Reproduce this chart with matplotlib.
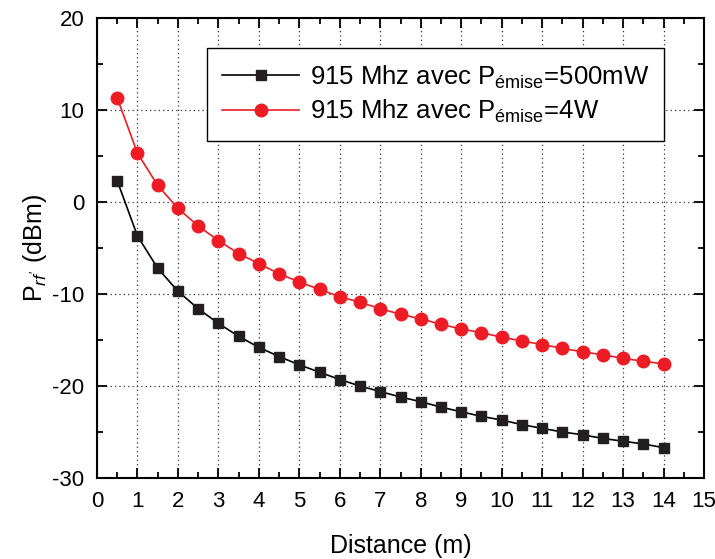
import numpy as np
import matplotlib.pyplot as plt
from matplotlib.ticker import MultipleLocator

plt.rcParams['font.family'] = ['Liberation Sans', 'DejaVu Sans']
plt.rcParams['mathtext.fontset'] = 'custom'
plt.rcParams['mathtext.rm'] = 'Liberation Sans'
plt.rcParams['mathtext.it'] = 'Liberation Sans:italic'
plt.rcParams['axes.unicode_minus'] = False

# distance (m)
distance = [0.5, 1, 1.5, 2, 2.5, 3, 3.5, 4, 4.5, 5, 5.5, 6, 6.5, 7, 7.5,
            8, 8.5, 9, 9.5, 10, 10.5, 11, 11.5, 12, 12.5, 13, 13.5, 14]
# puissance recue (dBm)
p_500mw = [2.3, -3.7, -7.2, -9.7, -11.6, -13.2, -14.6, -15.8, -16.8, -17.7,
           -18.5, -19.3, -20.0, -20.6, -21.2, -21.7, -22.3, -22.8, -23.3,
           -23.7, -24.2, -24.6, -25.0, -25.3, -25.7, -26.0, -26.3, -26.7]
p_4w = [11.3, 5.3, 1.8, -0.7, -2.6, -4.2, -5.6, -6.7, -7.8, -8.7, -9.5,
        -10.3, -10.9, -11.6, -12.2, -12.7, -13.3, -13.8, -14.2, -14.7,
        -15.1, -15.5, -15.9, -16.3, -16.6, -17.0, -17.3, -17.6]

fig = plt.figure(figsize=(7.15, 5.59), dpi=100)
ax = fig.add_axes([0.1357, 0.1449, 0.8489, 0.8229])

ax.plot(distance, p_500mw, '-', color='black', lw=1.2, marker='s', ms=7.5,
        mfc='#231f20', mec='#231f20',
        label=r'915 Mhz avec P$_{\mathrm{émise}}$=500mW')
ax.plot(distance, p_4w, '-', color='#ed1c24', lw=1.2, marker='o', ms=9,
        mfc='#ed1c24', mec='#ed1c24',
        label=r'915 Mhz avec P$_{\mathrm{émise}}$=4W')

ax.set_xlim(0, 15)
ax.set_ylim(-30, 20)
ax.xaxis.set_major_locator(MultipleLocator(1))
ax.xaxis.set_minor_locator(MultipleLocator(0.5))
ax.yaxis.set_major_locator(MultipleLocator(10))
ax.yaxis.set_minor_locator(MultipleLocator(5))
ax.tick_params(which='both', direction='in', top=True, right=True,
               labelsize=16, width=1.3, pad=9)
ax.tick_params(which='major', length=7)
ax.tick_params(which='minor', length=4)
for s in ax.spines.values():
    s.set_linewidth(1.5)

ax.grid(True, which='major', linestyle=(0, (1, 2.5)), color='#333333', lw=0.9)

ax.set_xlabel('Distance (m)', fontsize=18, labelpad=16)
ax.set_ylabel(r"P$_{\mathit{rf'}}$ (dBm)", fontsize=18, labelpad=2)

leg = ax.legend(loc='upper left', bbox_to_anchor=(0.181, 0.935), fontsize=18.5,
                fancybox=False, edgecolor='black', framealpha=1,
                handlelength=3.0, handletextpad=0.4, borderpad=0.6,
                labelspacing=0.3, borderaxespad=0)
leg.get_frame().set_linewidth(1.0)

fig.savefig('out.png', dpi=100)
